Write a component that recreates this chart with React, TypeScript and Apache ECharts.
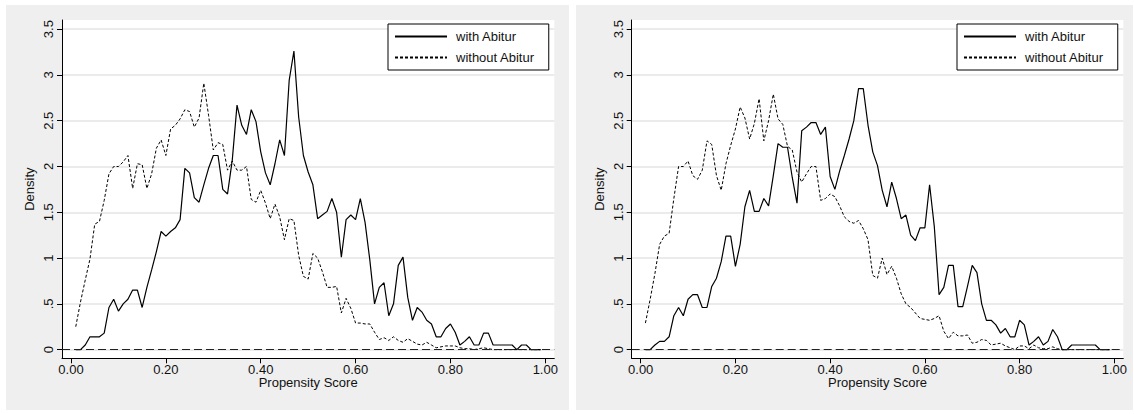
import React, { useEffect, useRef } from "react";
import * as echarts from "echarts";

// Propensity score bins (x) — 0.01 … 0.99
const scores = [
  0.01, 0.02, 0.03, 0.04, 0.05, 0.06, 0.07, 0.08, 0.09, 0.1,
  0.11, 0.12, 0.13, 0.14, 0.15, 0.16, 0.17, 0.18, 0.19, 0.2,
  0.21, 0.22, 0.23, 0.24, 0.25, 0.26, 0.27, 0.28, 0.29, 0.3,
  0.31, 0.32, 0.33, 0.34, 0.35, 0.36, 0.37, 0.38, 0.39, 0.4,
  0.41, 0.42, 0.43, 0.44, 0.45, 0.46, 0.47, 0.48, 0.49, 0.5,
  0.51, 0.52, 0.53, 0.54, 0.55, 0.56, 0.57, 0.58, 0.59, 0.6,
  0.61, 0.62, 0.63, 0.64, 0.65, 0.66, 0.67, 0.68, 0.69, 0.7,
  0.71, 0.72, 0.73, 0.74, 0.75, 0.76, 0.77, 0.78, 0.79, 0.8,
  0.81, 0.82, 0.83, 0.84, 0.85, 0.86, 0.87, 0.88, 0.89, 0.9,
  0.91, 0.92, 0.93, 0.94, 0.95, 0.96, 0.97, 0.98, 0.99,
];

// Left panel densities
const leftWith = [
  0, 0, 0.05, 0.14, 0.14, 0.14, 0.18, 0.46, 0.55, 0.42,
  0.5, 0.55, 0.65, 0.65, 0.46, 0.68, 0.87, 1.07, 1.29, 1.24,
  1.29, 1.33, 1.42, 1.98, 1.93, 1.66, 1.61, 1.8, 1.98, 2.12,
  2.12, 1.75, 1.7, 2.07, 2.67, 2.45, 2.35, 2.62, 2.49, 2.16,
  1.93, 1.8, 2.03, 2.29, 2.12, 2.94, 3.26, 2.54, 2.12, 1.94,
  1.8, 1.43, 1.47, 1.51, 1.65, 1.5, 1.01, 1.42, 1.47, 1.42,
  1.65, 1.39, 0.98, 0.5, 0.68, 0.73, 0.37, 0.5, 0.92, 1.01,
  0.57, 0.32, 0.46, 0.41, 0.32, 0.28, 0.14, 0.14, 0.23, 0.28,
  0.19, 0.05, 0.09, 0.14, 0.05, 0.05, 0.18, 0.18, 0.05, 0.05,
  0.05, 0.05, 0.05, 0, 0.05, 0.05, 0, 0, 0,
];
const leftWithout = [
  0.25, 0.52, 0.76, 0.99, 1.37, 1.4, 1.63, 1.92, 2.0, 2.0,
  2.05, 2.12, 1.76, 2.03, 2.02, 1.76, 1.92, 2.2, 2.29, 2.12,
  2.41, 2.45, 2.52, 2.62, 2.6, 2.43, 2.53, 2.91, 2.56, 2.18,
  2.26, 2.24, 1.96, 2.06, 1.96, 1.96, 2.0, 1.64, 1.61, 1.74,
  1.6, 1.43, 1.59, 1.45, 1.2, 1.43, 1.41, 1.03, 0.8, 0.77,
  1.05, 1.0, 0.85, 0.68, 0.68, 0.69, 0.4, 0.56, 0.45, 0.29,
  0.29, 0.28, 0.28, 0.19, 0.11, 0.13, 0.1, 0.14, 0.1, 0.08,
  0.12, 0.09, 0.06, 0.05, 0.08, 0.05, 0.02, 0.03, 0.04, 0.04,
  0.04, 0.02, 0.01, 0.01, 0, 0.01, 0.02, 0.01, 0, 0,
  0, 0, 0, 0, 0, 0, 0, 0, 0,
];

// Right panel densities
const rightWith = [
  0, 0, 0.05, 0.09, 0.09, 0.14, 0.37, 0.46, 0.37, 0.55,
  0.6, 0.6, 0.46, 0.46, 0.69, 0.78, 0.96, 1.24, 1.24, 0.91,
  1.15, 1.56, 1.74, 1.51, 1.51, 1.65, 1.57, 1.9, 2.25, 2.21,
  2.21, 1.88, 1.6, 2.39, 2.43, 2.48, 2.48, 2.35, 2.43, 1.89,
  1.75, 1.95, 2.12, 2.3, 2.5, 2.85, 2.85, 2.45, 2.16, 2.01,
  1.74, 1.56, 1.83, 1.65, 1.43, 1.47, 1.25, 1.19, 1.33, 1.33,
  1.8, 1.34, 0.6, 0.68, 0.92, 0.92, 0.47, 0.47, 0.69, 0.92,
  0.84, 0.5, 0.32, 0.32, 0.27, 0.18, 0.23, 0.14, 0.14, 0.32,
  0.27, 0.05, 0.09, 0.14, 0.05, 0.09, 0.22, 0.14, 0, 0,
  0.05, 0.05, 0.05, 0.05, 0.05, 0.05, 0, 0, 0,
];
const rightWithout = [
  0.29, 0.55, 0.83, 1.15, 1.24, 1.27, 1.65, 2.0, 2.0, 2.06,
  1.9, 1.86, 1.96, 2.28, 2.24, 1.9, 1.74, 2.03, 2.23, 2.41,
  2.65, 2.53, 2.3, 2.47, 2.74, 2.28, 2.5, 2.79, 2.52, 2.46,
  2.22, 2.18, 1.94, 1.83, 1.92, 2.0, 2.0, 1.63, 1.65, 1.7,
  1.67, 1.57, 1.45, 1.4, 1.38, 1.41, 1.32, 1.2, 0.81, 0.78,
  1.0, 0.82, 0.91, 0.78, 0.61, 0.5, 0.46, 0.4, 0.34, 0.33,
  0.32, 0.34, 0.37, 0.2, 0.12, 0.19, 0.15, 0.15, 0.16, 0.07,
  0.08, 0.11, 0.1, 0.05, 0.06, 0.07, 0.04, 0.02, 0, 0.04,
  0.04, 0.01, 0.05, 0.02, 0.01, 0.01, 0.03, 0.01, 0, 0,
  0, 0, 0, 0, 0, 0, 0, 0, 0,
];

const seriesNames = ["with Abitur", "without Abitur"];
const xTicks = [0, 0.2, 0.4, 0.6, 0.8, 1.0];
const xTickLabels = ["0.00", "0.20", "0.40", "0.60", "0.80", "1.00"];
const yTicks = [0, 0.5, 1, 1.5, 2, 2.5, 3, 3.5];
const yTickLabels = ["0", ".5", "1", "1.5", "2", "2.5", "3", "3.5"];
const xTitle = "Propensity Score";
const yTitle = "Density";

const FONT = "'Liberation Sans', Arial, Helvetica, sans-serif";
const INK = "#111";

const panels = [
  { bg: [6, 5, 563, 405], grid: [62, 20, 492.3, 338.3], legend: [388, 24], with: leftWith, without: leftWithout },
  { bg: [576, 5, 557, 405], grid: [631.7, 20, 491.6, 338.3], legend: [957, 24], with: rightWith, without: rightWithout },
];

function lookup(ticks: number[], labels: string[], v: number) {
  const i = ticks.findIndex((t) => Math.abs(t - v) < 1e-6);
  return i >= 0 ? labels[i] : "";
}

function buildOption() {
  const grid: any[] = [];
  const xAxis: any[] = [];
  const yAxis: any[] = [];
  const series: any[] = [];
  const legend: any[] = [];
  const graphic: any[] = [];

  panels.forEach((p, i) => {
    graphic.push({
      type: "rect",
      z: -10,
      shape: { x: p.bg[0], y: p.bg[1], width: p.bg[2], height: p.bg[3] },
      style: { fill: "#efefef" },
      silent: true,
    });
    grid.push({
      left: p.grid[0],
      top: p.grid[1],
      width: p.grid[2],
      height: p.grid[3],
      show: true,
      backgroundColor: "#ffffff",
      borderWidth: 0,
    });
    xAxis.push({
      type: "value",
      gridIndex: i,
      min: -0.019,
      max: 1.019,
      name: xTitle,
      nameLocation: "middle",
      nameGap: 18,
      nameMoveOverlap: false,
      nameTextStyle: { fontFamily: FONT, fontSize: 13, color: INK },
      axisLine: { show: true, onZero: false, lineStyle: { color: "#000", width: 1 } },
      axisTick: { show: true, length: 5, customValues: xTicks, lineStyle: { color: "#000", width: 1 } },
      axisLabel: {
        customValues: xTicks,
        margin: 5,
        fontFamily: FONT,
        fontSize: 13,
        color: INK,
        formatter: (v: number) => lookup(xTicks, xTickLabels, v),
      },
      splitLine: { show: false },
    });
    yAxis.push({
      type: "value",
      gridIndex: i,
      min: -0.095,
      max: 3.6,
      name: yTitle,
      nameLocation: "middle",
      nameGap: 26,
      nameRotate: 90,
      nameMoveOverlap: false,
      nameTextStyle: { fontFamily: FONT, fontSize: 13, color: INK },
      axisLine: { show: true, onZero: false, lineStyle: { color: "#000", width: 1 } },
      axisTick: { show: true, length: 5, customValues: yTicks, lineStyle: { color: "#000", width: 1 } },
      axisLabel: {
        customValues: yTicks,
        rotate: 90,
        margin: 7,
        fontFamily: FONT,
        fontSize: 13,
        color: INK,
        formatter: (v: number) => lookup(yTicks, yTickLabels, v),
      },
      splitLine: { show: true, lineStyle: { color: "#e4e4e4", width: 1.5 } },
    });
    series.push({
      type: "line",
      name: seriesNames[0],
      xAxisIndex: i,
      yAxisIndex: i,
      data: scores.map((x, k) => [x, p.with[k]]),
      symbol: "none",
      lineStyle: { color: "#000", width: 1.2, type: "solid" },
      itemStyle: { color: "#000" },
      z: 3,
      markLine: {
        silent: true,
        symbol: ["none", "none"],
        label: { show: false },
        lineStyle: { color: "#222", width: 1, type: [8, 4] },
        data: [{ yAxis: 0 }],
      },
    });
    series.push({
      type: "line",
      name: seriesNames[1],
      xAxisIndex: i,
      yAxisIndex: i,
      data: scores.map((x, k) => [x, p.without[k]]),
      symbol: "none",
      lineStyle: { color: "#000", width: 1, type: [3, 2] },
      itemStyle: { color: "#000" },
      z: 3,
    });
    legend.push({
      orient: "vertical",
      left: p.legend[0],
      top: p.legend[1],
      data: seriesNames,
      itemWidth: 52,
      itemHeight: 14,
      itemGap: 8,
      padding: [6, 14, 6, 6],
      backgroundColor: "#ffffff",
      borderColor: "#000",
      borderWidth: 1,
      borderRadius: 0,
      selectedMode: false,
      itemStyle: { opacity: 0 },
      textStyle: { fontFamily: FONT, fontSize: 13, color: INK, padding: [0, 0, 0, 4] },
    });
  });

  return {
    animation: false,
    backgroundColor: "#ffffff",
    graphic,
    grid,
    xAxis,
    yAxis,
    series,
    legend,
  };
}

export default function App() {
  const ref = useRef<HTMLDivElement>(null);
  useEffect(() => {
    if (!ref.current) return;
    const chart = echarts.init(ref.current, null, { renderer: "svg" });
    chart.setOption(buildOption() as any);
    return () => chart.dispose();
  }, []);
  return (
    <div
      ref={ref}
      style={{ position: "fixed", left: 0, top: 0, width: 1134, height: 414, background: "#fff" }}
    />
  );
}
